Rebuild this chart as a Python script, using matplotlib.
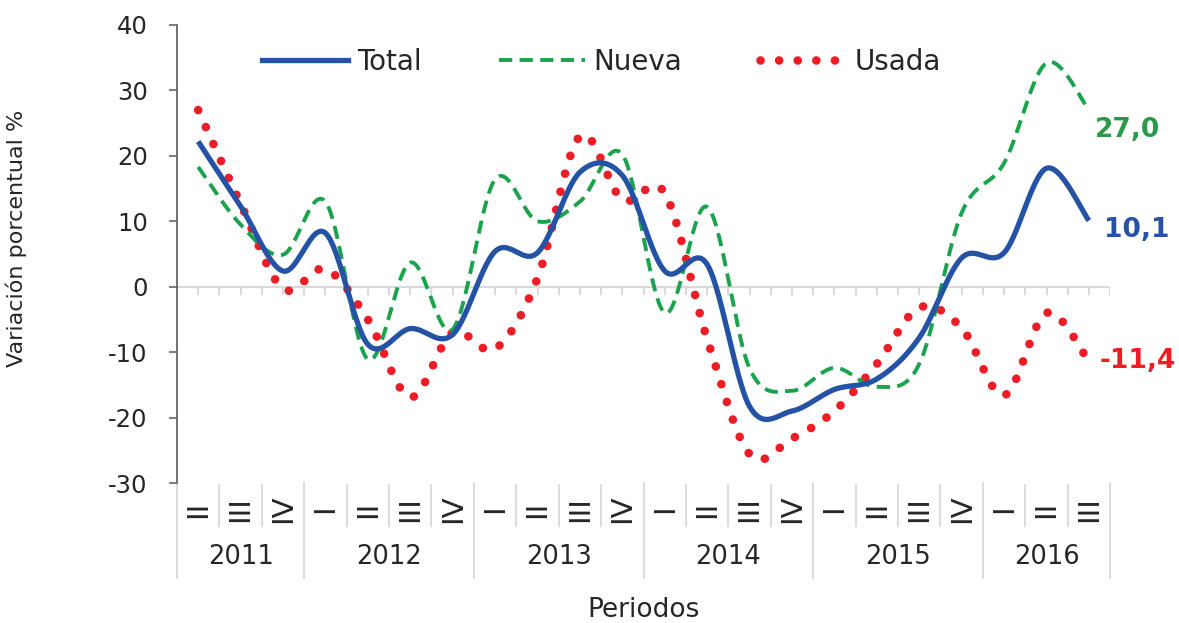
import numpy as np
import matplotlib
matplotlib.use("Agg")
import matplotlib.pyplot as plt
import matplotlib.transforms as mtransforms
from matplotlib.lines import Line2D

# datos trimestrales (variación porcentual %)
quarters = ["II", "III", "IV",
            "I", "II", "III", "IV",
            "I", "II", "III", "IV",
            "I", "II", "III", "IV",
            "I", "II", "III", "IV",
            "I", "II", "III"]
years = ["2011", "2012", "2013", "2014", "2015", "2016"]
year_counts = [3, 4, 4, 4, 4, 3]

total = [22.2, 12.3, 2.4, 8.2, -8.8, -6.4, -7.3, 5.4, 5.2, 17.5, 17.0,
         2.4, 3.4, -18.3, -19.0, -15.7, -14.1, -7.8, 4.4, 5.2, 18.1, 10.1]
nueva = [18.3, 9.5, 4.9, 13.0, -11.1, 3.7, -6.5, 16.4, 10.0, 13.0, 20.2,
         -4.0, 12.2, -12.5, -15.9, -12.4, -15.3, -11.8, 11.3, 18.9, 34.2, 27.0]
usada = [27.0, 12.7, -0.3, 2.7, -5.0, -16.9, -7.0, -9.5, 1.3, 23.0, 13.3,
         14.3, -8.0, -25.6, -23.2, -19.0, -11.8, -3.2, -6.3, -16.6, -4.0, -11.4]

BLUE = "#2452A4"
GREEN = "#1BA24C"
RED = "#EE1C25"
GRID = "#D9D9D9"

plt.rcParams["font.family"] = ["DejaVu Sans"]
plt.rcParams["axes.unicode_minus"] = False


# curva suavizada tipo Excel (Bezier Catmull-Rom)
def smooth(y, n=30):
    y = np.asarray(y, dtype=float)
    x = np.arange(len(y), dtype=float)
    px = np.concatenate([[x[0]], x, [x[-1]]])
    py = np.concatenate([[y[0]], y, [y[-1]]])
    xs, ys = [], []
    t = np.linspace(0, 1, n)
    for i in range(len(y) - 1):
        p0 = np.array([px[i], py[i]])
        p1 = np.array([px[i + 1], py[i + 1]])
        p2 = np.array([px[i + 2], py[i + 2]])
        p3 = np.array([px[i + 3], py[i + 3]])
        c1 = p1 + (p2 - p0) / 6
        c2 = p2 - (p3 - p1) / 6
        b = ((1 - t) ** 3)[:, None] * p1 + (3 * (1 - t) ** 2 * t)[:, None] * c1 \
            + (3 * (1 - t) * t ** 2)[:, None] * c2 + (t ** 3)[:, None] * p2
        xs.extend(b[:, 0])
        ys.extend(b[:, 1])
    return np.array(xs), np.array(ys)


fig = plt.figure(figsize=(11.79, 6.23), dpi=100)
ax = fig.add_axes([0.1501, 0.2247, 0.7915, 0.7352])

n = len(total)
ax.set_xlim(-0.5, n - 0.5)
ax.set_ylim(-30, 40)

# linea del cero con marcas
ax.axhline(0, color=GRID, lw=1.5, zorder=1)
for k in np.arange(0, n, 0.5):
    ax.plot([k, k], [0, -1.1], color=GRID, lw=1.5, zorder=1)

RED_LS = (0, (0.01, 2.15))
GREEN_LS = (0, (3.4, 1.9))

xs, ys = smooth(usada)
ax.plot(xs, ys, color=RED, lw=6.2, ls=RED_LS, dash_capstyle="round", zorder=2)
xs, ys = smooth(nueva)
ax.plot(xs, ys, color=GREEN, lw=2.8, ls=GREEN_LS, zorder=3)
xs, ys = smooth(total)
ax.plot(xs, ys, color=BLUE, lw=3.8, solid_capstyle="butt", zorder=4)

# etiquetas del último valor
ax.text(n - 1 + 0.15, nueva[-1] - 3.0, f"{nueva[-1]:.1f}".replace(".", ","),
        color="#2A9A48", fontsize=19, fontweight="bold", va="center", ha="left")
ax.text(n - 1 + 0.35, total[-1] - 1.4, f"{total[-1]:.1f}".replace(".", ","),
        color=BLUE, fontsize=19, fontweight="bold", va="center", ha="left")
ax.text(n - 1 + 0.25, usada[-1], f"{usada[-1]:.1f}".replace(".", ","),
        color=RED, fontsize=19, fontweight="bold", va="center", ha="left")

# ejes
for s in ["top", "right", "bottom"]:
    ax.spines[s].set_visible(False)
ax.spines["left"].set_color("#595959")
ax.spines["left"].set_linewidth(1.2)
ax.set_yticks(range(-30, 41, 10))
ax.tick_params(axis="y", length=6, width=1.1, color="#595959", pad=15,
               labelsize=17.5, labelcolor="#262626")
ax.set_xticks([])

ax.set_ylabel("Variación porcentual %", fontsize=16, color="#262626")
ax.yaxis.set_label_coords(-0.161, 0.535)

# eje de categorías en dos niveles
trans = mtransforms.blended_transform_factory(ax.transData, ax.transAxes)
bounds = np.cumsum([0] + year_counts) - 0.5
for i, q in enumerate(quarters):
    ax.text(i, -0.057, q, transform=trans, rotation=90, ha="center", va="center",
            fontsize=21, color="#262626", clip_on=False)
for k in np.arange(-0.5, n, 1.0):
    if k in bounds:
        ax.plot([k, k], [0, -0.207], transform=trans, color=GRID, lw=1.3, clip_on=False)
    else:
        ax.plot([k, k], [-0.004, -0.093], transform=trans, color=GRID, lw=1.3, clip_on=False)
for j, yr in enumerate(years):
    ax.text((bounds[j] + bounds[j + 1]) / 2, -0.161, yr, transform=trans,
            ha="center", va="center", fontsize=18.5, color="#262626", clip_on=False)

ax.text(0.5, -0.277, "Periodos", transform=ax.transAxes, ha="center", va="center",
        fontsize=19, color="#262626")

# leyenda
handles = [
    Line2D([], [], color=BLUE, lw=3.8),
    Line2D([], [], color=GREEN, lw=2.8, ls=GREEN_LS),
    Line2D([], [], color=RED, lw=6.2, ls=RED_LS, dash_capstyle="round"),
]
ax.legend(handles, ["Total", "Nueva", "Usada"], loc="upper center",
          bbox_to_anchor=(0.455, 1.005), ncol=3, frameon=False, fontsize=20,
          handlelength=3.1, handletextpad=0.3, columnspacing=2.8,
          labelcolor="#262626")

fig.savefig("out.png", dpi=100)
